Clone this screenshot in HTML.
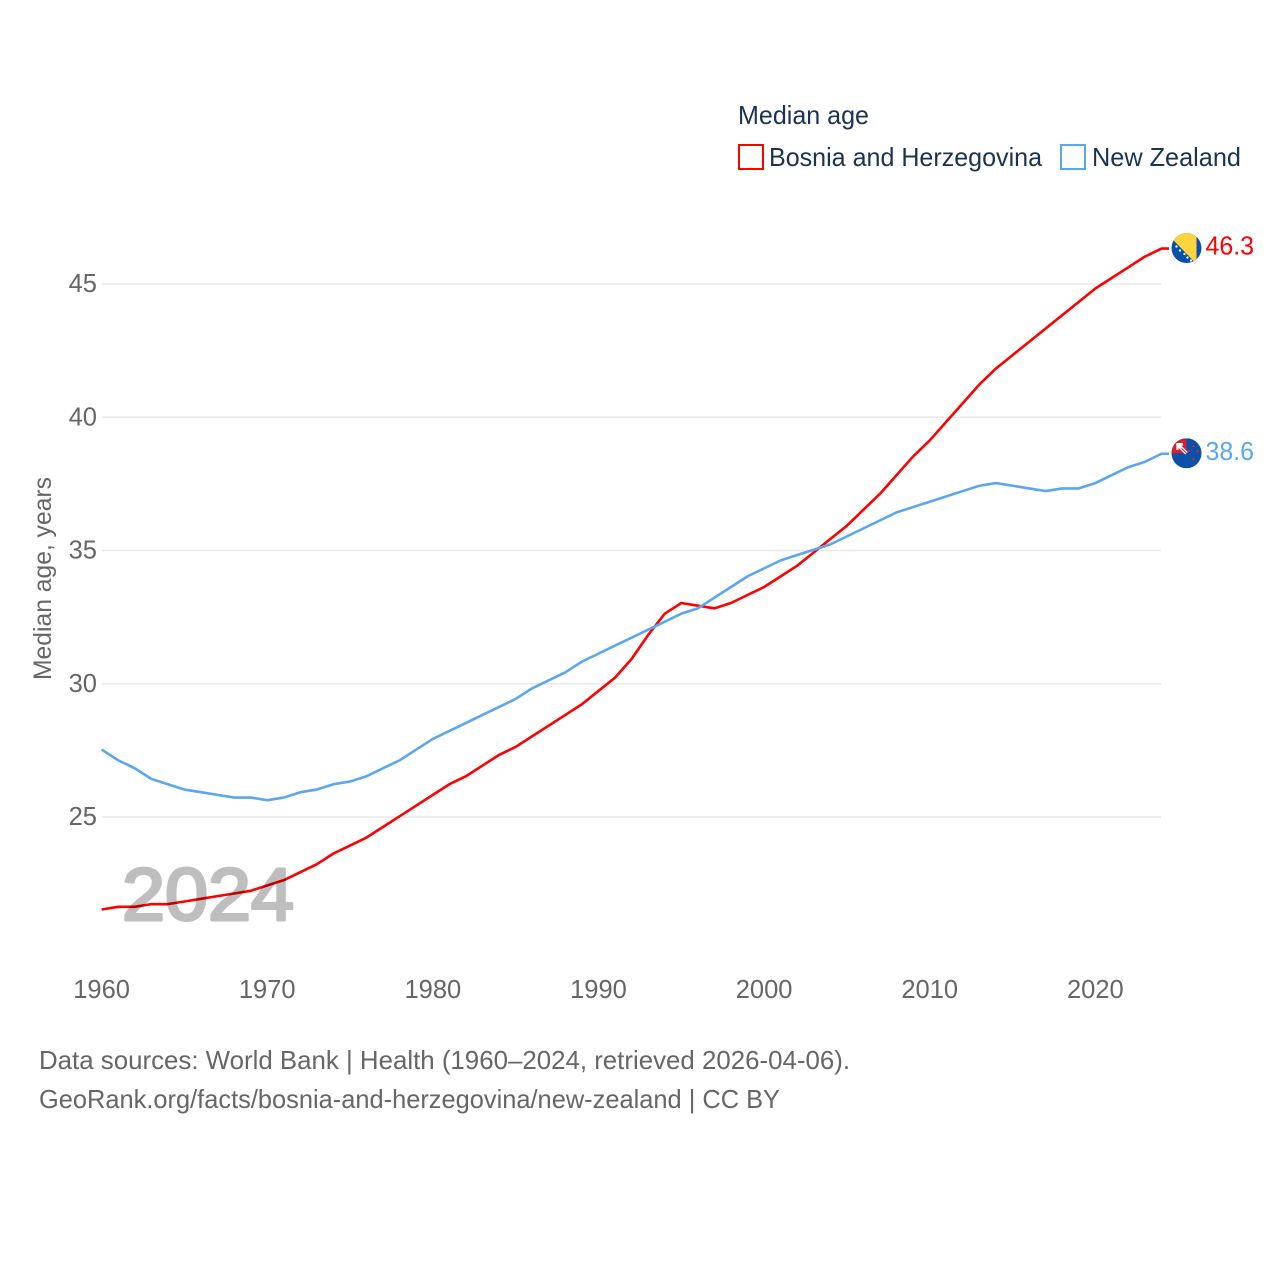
<!DOCTYPE html>
<html lang="en">
<head>
<meta charset="utf-8">
<title>Median age: Bosnia and Herzegovina vs New Zealand</title>
<style>
html,body{margin:0;padding:0;background:#fff;}
svg{display:block;font-family:"Liberation Sans",sans-serif;}
</style>
</head>
<body>
<svg id="chart" xmlns="http://www.w3.org/2000/svg" width="1280" height="1280" viewBox="0 0 1280 1280">
  <rect x="0" y="0" width="1280" height="1280" fill="#fff"/>
  <defs>
    <clipPath id="flag-clip"><circle cx="0" cy="0" r="15"/></clipPath>
  </defs>
  <g id="grid"></g>
  <g id="y-labels"></g>
  <g id="x-labels"></g>
  <g id="lines"></g>
  <g id="end-marks"></g>

  <text x="122" y="920" font-size="74" font-weight="400" fill="#000" stroke="#000" stroke-width="3" stroke-linejoin="round" opacity="0.25" textLength="172" lengthAdjust="spacingAndGlyphs">2024</text>

  <text transform="translate(51,680) rotate(-90)" font-size="25" fill="#666" textLength="203" lengthAdjust="spacingAndGlyphs">Median age, years</text>

  <g>
    <text x="738" y="124" font-size="26" fill="#1a3353" textLength="131" lengthAdjust="spacingAndGlyphs">Median age</text>
    <rect x="739" y="145" width="24" height="24" fill="#fff" stroke="#ff0000" stroke-width="2"/>
    <text x="769" y="166" font-size="26" fill="#1a3353" textLength="273" lengthAdjust="spacingAndGlyphs">Bosnia and Herzegovina</text>
    <rect x="1061" y="145" width="24" height="24" fill="#fff" stroke="#5ba6f0" stroke-width="2"/>
    <text x="1092" y="166" font-size="26" fill="#1a3353" textLength="149" lengthAdjust="spacingAndGlyphs">New Zealand</text>
  </g>

  <g>
    <text x="39" y="1069" font-size="26" fill="#666" textLength="811" lengthAdjust="spacingAndGlyphs">Data sources: World Bank | Health (1960–2024, retrieved 2026-04-06).</text>
    <text x="39" y="1108" font-size="26" fill="#666" textLength="741" lengthAdjust="spacingAndGlyphs">GeoRank.org/facts/bosnia-and-herzegovina/new-zealand | CC BY</text>
  </g>
</svg>
<script>
const firstYear = 1960;
const lastYear = 2024;
const yTicks = [25, 30, 35, 40, 45];
const xTicks = [1960, 1970, 1980, 1990, 2000, 2010, 2020];
const bosniaValues = [21.5,21.6,21.6,21.7,21.7,21.8,21.9,22.0,22.1,22.2,22.4,22.6,22.9,23.2,23.6,23.9,24.2,24.6,25.0,25.4,25.8,26.2,26.5,26.9,27.3,27.6,28.0,28.4,28.8,29.2,29.7,30.2,30.9,31.8,32.6,33.0,32.9,32.8,33.0,33.3,33.6,34.0,34.4,34.9,35.4,35.9,36.5,37.1,37.8,38.5,39.1,39.8,40.5,41.2,41.8,42.3,42.8,43.3,43.8,44.3,44.8,45.2,45.6,46.0,46.3];
const newZealandValues = [27.5,27.1,26.8,26.4,26.2,26.0,25.9,25.8,25.7,25.7,25.6,25.7,25.9,26.0,26.2,26.3,26.5,26.8,27.1,27.5,27.9,28.2,28.5,28.8,29.1,29.4,29.8,30.1,30.4,30.8,31.1,31.4,31.7,32.0,32.3,32.6,32.8,33.2,33.6,34.0,34.3,34.6,34.8,35.0,35.2,35.5,35.8,36.1,36.4,36.6,36.8,37.0,37.2,37.4,37.5,37.4,37.3,37.2,37.3,37.3,37.5,37.8,38.1,38.3,38.6];

const NS = 'http://www.w3.org/2000/svg';
const xScale = function (year) { return 101.6 + (year - firstYear) * (1161.6 - 101.6) / (lastYear - firstYear); };
const yScale = function (v) { return 816.2 - (v - 25) * (816.2 - 283.2) / 20; };
const gridScale = function (v) { return yScale(v) + 0.8; };

function make(tag, parent, attrs, text) {
  const el = document.createElementNS(NS, tag);
  for (const k in attrs) el.setAttribute(k, attrs[k]);
  if (text !== undefined) el.textContent = text;
  parent.appendChild(el);
  return el;
}

const grid = document.getElementById('grid');
const yLabels = document.getElementById('y-labels');
const xLabels = document.getElementById('x-labels');
const lines = document.getElementById('lines');
const endMarks = document.getElementById('end-marks');

yTicks.forEach(function (t) {
  const gl = make('line', grid, {x1: 102, x2: 1161, y1: gridScale(t), y2: gridScale(t), stroke: '#e9e9e9', 'stroke-width': 1.5});
  
  
  const lb = make('text', yLabels, {x: 97, y: gridScale(t) + 8, 'text-anchor': 'end', 'font-size': 25.5, fill: '#666'}, String(t));
  
  
});

xTicks.forEach(function (t) {
  const lb = make('text', xLabels, {x: xScale(t), y: 998, 'text-anchor': 'middle', 'font-size': 25.5, fill: '#666'}, String(t));
  
  
});

function drawSeries(values, color, name) {
  const pts = values.map(function (v, i) { return xScale(firstYear + i).toFixed(2) + ',' + yScale(v).toFixed(2); });
  const endY = yScale(values[values.length - 1]);
  pts.push('1169,' + endY.toFixed(2));
  const line = make('polyline', lines, {points: pts.join(' '), fill: 'none', stroke: color, 'stroke-width': 2.6, 'stroke-linejoin': 'round', 'stroke-linecap': 'butt'});
  
  
  const label = make('text', endMarks, {x: 1205.5, y: endY + 6, 'font-size': 25.5, fill: color, textLength: 48.5, lengthAdjust: 'spacingAndGlyphs'}, values[values.length - 1].toFixed(1));
  
  
  const flag = make('g', endMarks, {transform: 'translate(1186.5,' + (endY - 0.5).toFixed(2) + ')', 'clip-path': 'url(#flag-clip)'});
  
  
  return flag;
}

const bosniaFlag = drawSeries(bosniaValues, '#ff0000', 'bosnia');
make('rect', bosniaFlag, {x: -15, y: -15, width: 30, height: 30, fill: '#0a4fa8'});
make('polygon', bosniaFlag, {points: '-21,-16 10,-16 10,16', fill: '#fdd33f'});
[[-10,-1.5],[-6.5,2.5],[-2,6],[1,9.5],[4.5,12.5]].forEach(function (p) {
  make('circle', bosniaFlag, {cx: p[0], cy: p[1], r: 1.2, fill: '#fff'});
});

const nzFlag = drawSeries(newZealandValues, '#5ba6f0', 'new-zealand');
make('rect', nzFlag, {x: -15, y: -15, width: 30, height: 30, fill: '#0a4fa8'});
make('rect', nzFlag, {x: -15, y: -14, width: 15, height: 14, fill: '#d8202f'});
make('path', nzFlag, {d: 'M-9,-3.5 V-9 H-3.5', fill: 'none', stroke: '#fff', 'stroke-width': 2.4});
make('line', nzFlag, {x1: -8.5, y1: -8.5, x2: 0, y2: 0, stroke: '#fff', 'stroke-width': 3.4});
make('line', nzFlag, {x1: -5, y1: -5, x2: 0, y2: 0, stroke: '#d8202f', 'stroke-width': 1});
[[2,-2],[7,-7],[11,-2],[7,6]].forEach(function (p) {
  make('circle', nzFlag, {cx: p[0], cy: p[1], r: 1.2, fill: '#e0202f'});
});
</script>
</body>
</html>
